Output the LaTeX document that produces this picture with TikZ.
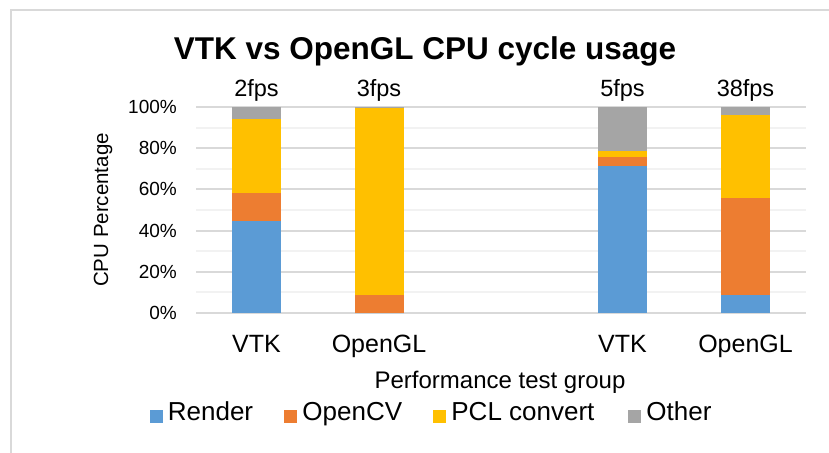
\documentclass[tikz,border=0pt]{standalone}
\usepackage{fontspec}
\setmainfont{Liberation Sans}
\usetikzlibrary{positioning}

\definecolor{render}{HTML}{5B9BD5}
\definecolor{opencv}{HTML}{ED7D31}
\definecolor{pcl}{HTML}{FFC000}
\definecolor{other}{HTML}{A5A5A5}
\definecolor{majorgrid}{HTML}{D9D9D9}
\definecolor{minorgrid}{HTML}{F2F2F2}

\newcommand{\py}[1]{139+2.06*#1}

\begin{document}
\begin{tikzpicture}[x=1pt, y=1pt,
	txt/.style={inner sep=0pt, text=black},
	ticklbl/.style={txt, font=\fontsize{19}{19}\selectfont, anchor=east},
	fps/.style={txt, font=\fontsize{23.5}{23.5}\selectfont, anchor=base},
	catlbl/.style={txt, font=\fontsize{25}{25}\selectfont, anchor=base},
	legsq/.style={minimum size=13pt, inner sep=0pt, fill=#1},
	legtxt/.style={txt, font=\fontsize{26}{26}\selectfont, text height=0.72em, text depth=0pt}]
	\useasboundingbox (0,0) rectangle (829,452);
	\draw[majorgrid, line width=2pt] (11,-10) -- (11,441.7) -- (840,441.7);
	
	\node[txt, font=\bfseries\fontsize{31.5}{31.5}\selectfont, anchor=base] (title) at (425,392) {VTK vs OpenGL CPU cycle usage};
	
	\foreach \i in {1,3,...,9}
		\draw[minorgrid, line width=2pt] (196,{\py{10*\i}}) -- (806,{\py{10*\i}});
	\foreach \p in {0,20,...,100} {
		\draw[majorgrid, line width=2pt] (196,{\py{\p}}) -- (806,{\py{\p}});
		\node[ticklbl] (tick\p) at (177,{\py{\p}}) {\p\%};
	}
	
	\foreach \n/\x/\a/\b/\c/\f/\t in {vtkA/256.5/44.7/58.4/94.2/2fps/VTK, glA/379/0/8.7/99.5/3fps/OpenGL,
		vtkB/622.5/71.5/75.7/78.6/5fps/VTK, glB/745.5/8.7/55.8/96/38fps/OpenGL} {
		\fill[render] ({\x-24.5},{\py{0}}) rectangle ({\x+24.5},{\py{\a}});
		\fill[opencv] ({\x-24.5},{\py{\a}}) rectangle ({\x+24.5},{\py{\b}});
		\fill[pcl] ({\x-24.5},{\py{\b}}) rectangle ({\x+24.5},{\py{\c}});
		\fill[other] ({\x-24.5},{\py{\c}}) rectangle ({\x+24.5},{\py{100}});
		\node[fps] (\n-fps) at (\x,355) {\f};
		\node[catlbl] (\n-cat) at (\x,99) {\t};
	}
	
	\node[txt, font=\fontsize{20.5}{20.5}\selectfont, rotate=90] (ylabel) at (103,242) {CPU Percentage};
	\node[txt, font=\fontsize{24}{24}\selectfont, anchor=base] (xlabel) at (500,63) {Performance test group};
	
	\node[legsq=render] (sqRender) at (156,35.5) {};
	\node[legtxt, right=5pt of sqRender] (lgRender) {Render};
	\node[legsq=opencv] (sqOpenCV) at (290.5,35.5) {};
	\node[legtxt, right=5pt of sqOpenCV] (lgOpenCV) {OpenCV};
	\node[legsq=pcl] (sqPCL) at (439.5,35.5) {};
	\node[legtxt, right=5pt of sqPCL] (lgPCL) {PCL convert};
	\node[legsq=other] (sqOther) at (634.5,35.5) {};
	\node[legtxt, right=5pt of sqOther] (lgOther) {Other};
\end{tikzpicture}
\end{document}
